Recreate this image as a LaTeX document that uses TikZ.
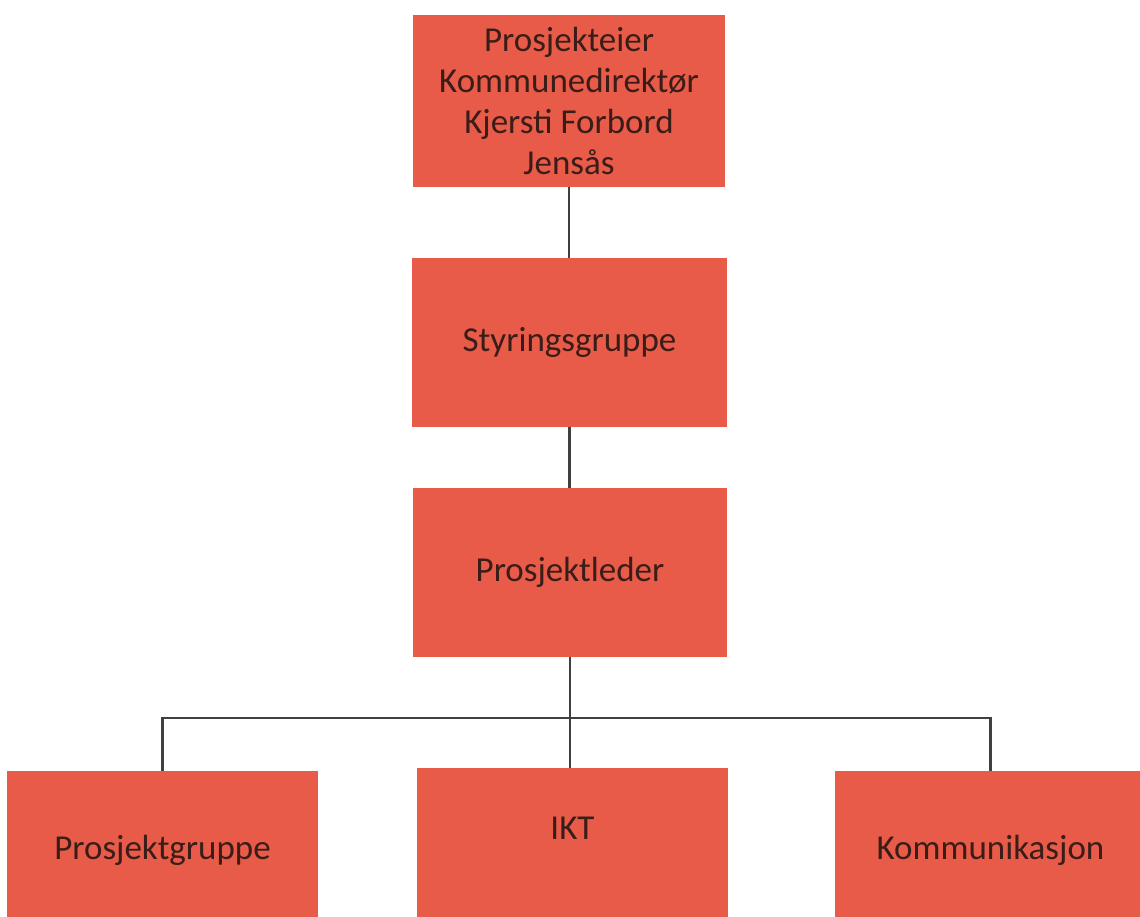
\documentclass[tikz,border=0pt]{standalone}
\usepackage{fontspec}
\setmainfont{Carlito}
\usetikzlibrary{positioning}
\definecolor{boxred}{RGB}{232,91,72}
\definecolor{boxtext}{RGB}{58,28,24}
\definecolor{linegray}{RGB}{64,64,64}
\tikzset{
  orgbox/.style={fill=boxred, text=boxtext, align=center, inner sep=0pt,
    font=\fontsize{35}{41}\selectfont, minimum width=312pt, minimum height=170pt},
  orgline/.style={draw=linegray, line width=2.5pt}
}

\begin{document}
\begin{tikzpicture}[x=1pt, y=-1pt]
    \useasboundingbox (0,0) rectangle (1140,917);
    \clip (0,0) rectangle (1140,917);
    % top chain
    \node[orgbox, minimum height=172pt] (eier) at (569,101) {Prosjekteier\\Kommunedirektør\\Kjersti Forbord\\Jensås};
    \node[orgbox, minimum width=315pt, minimum height=169pt] (styring) at (569.5,342.5) {Styringsgruppe};
    \node[orgbox, minimum width=314pt, minimum height=169pt] (leder) at (570,572.5) {Prosjektleder};
    % bottom row
    \node[orgbox, minimum width=311pt, minimum height=158pt] (gruppe) at (162.5,850) {Prosjektgruppe};
    \node[orgbox, minimum width=311pt, minimum height=158pt, text depth=38pt] (ikt) at (572.5,847) {IKT};
    \node[orgbox, minimum width=311pt, minimum height=158pt] (komm) at (990.5,850) {Kommunikasjon};
    \coordinate (bus) at (570,718);
    \draw[orgline] (eier.south) -- (eier.south |- styring.north);
    \draw[orgline] (styring.south) -- (styring.south |- leder.north);
    \draw[orgline] (leder.south) -- (leder.south |- ikt.north);
    \draw[orgline] (gruppe.north) |- (bus) -| (komm.north);
\end{tikzpicture}
\end{document}
